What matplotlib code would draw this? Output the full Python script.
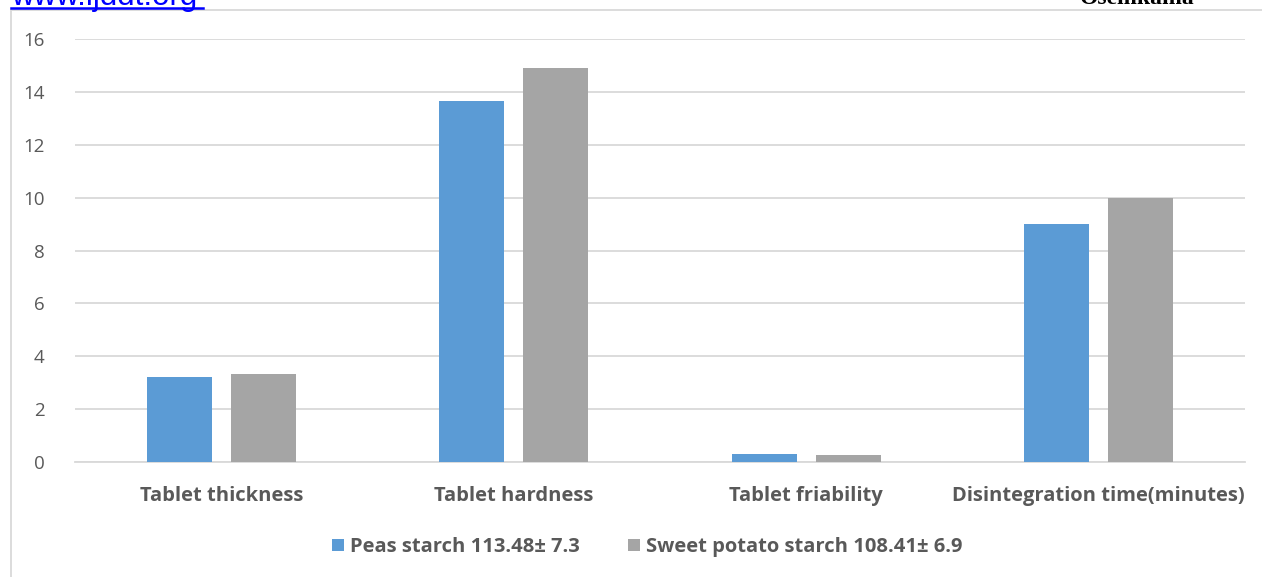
import matplotlib
matplotlib.use("Agg")
import matplotlib.pyplot as plt
from matplotlib.patches import Rectangle
import numpy as np

categories = ["Tablet thickness", "Tablet hardness", "Tablet friability",
              "Disintegration time(minutes)"]
peas_values = [3.22, 13.65, 0.30, 9.0]
sweet_potato_values = [3.33, 14.9, 0.27, 10.0]
series_names = ["Peas starch 113.48\u00b1 7.3", "Sweet potato starch 108.41\u00b1 6.9"]
y_ticks = [0, 2, 4, 6, 8, 10, 12, 14, 16]

BLUE = "#5B9BD5"
GRAY = "#A5A5A5"
TEXT = "#595959"
GRID = "#D9D9D9"

plt.rcParams["font.family"] = ["Open Sans", "DejaVu Sans"]

W, H = 1262, 577
fig = plt.figure(figsize=(W / 100, H / 100), dpi=100)

# chart frame
fig.patches.append(Rectangle((11 / W, -0.1), 1.2, (H - 10) / H + 0.1,
                             transform=fig.transFigure, fill=False,
                             edgecolor="#D9D9D9", linewidth=1.3))

# running header fragments at the top edge of the page
fig.text(11 / W, 1 - 5 / H, "www.ijddt.org", color="#0000FF", fontsize=22.5,
         ha="left", va="baseline", family="Liberation Sans")
fig.lines.append(plt.Line2D([11 / W, 203 / W], [1 - 7.5 / H, 1 - 7.5 / H],
                            transform=fig.transFigure, color="#0000FF", lw=1.8))
fig.text(1195 / W, 1 - 4 / H, "Oseinkama", color="black", fontsize=17,
         fontweight="bold", ha="right", va="baseline", family="Liberation Serif")

ax = fig.add_axes([75 / W, (H - 462) / H, (1245 - 75) / W, (462 - 39) / H])
x = np.arange(len(categories))
width = 0.222
off = 0.1435
ax.bar(x - off, peas_values, width, color=BLUE, label=series_names[0], zorder=3)
ax.bar(x + off, sweet_potato_values, width, color=GRAY, label=series_names[1], zorder=3)

ax.set_xlim(-0.5, len(categories) - 0.5)
ax.set_ylim(0, 16)
ax.set_yticks(y_ticks)
ax.set_yticklabels([str(v) for v in y_ticks], fontsize=13.5, color=TEXT)
ax.set_xticks(x)
ax.set_xticklabels(categories, fontsize=14.5, fontweight="bold", color=TEXT)
ax.tick_params(axis="both", length=0)
ax.tick_params(axis="y", pad=22)
ax.tick_params(axis="x", pad=17)
ax.grid(axis="y", color=GRID, linewidth=1.3, zorder=0)
for s in ["top", "right", "left"]:
    ax.spines[s].set_visible(False)
ax.spines["bottom"].set_color(GRID)
ax.spines["bottom"].set_linewidth(1.3)

leg = fig.legend(loc="center", bbox_to_anchor=(647 / W, 1 - 547 / H), ncol=2,
                 frameon=False, handlelength=0.6, handleheight=0.6,
                 handletextpad=0.3, columnspacing=2.4,
                 prop={"size": 14.5, "weight": "bold"})
for t in leg.get_texts():
    t.set_color(TEXT)

fig.savefig("out.png", dpi=100)
